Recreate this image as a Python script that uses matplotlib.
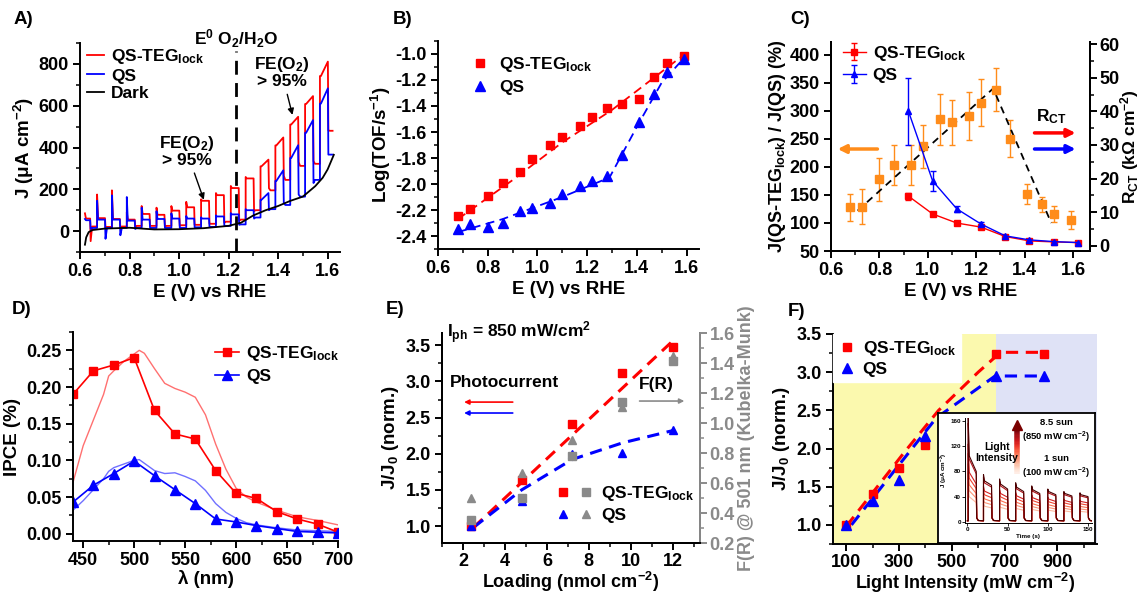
import numpy as np
import matplotlib
matplotlib.use("Agg")
import matplotlib.pyplot as plt
from matplotlib.ticker import MultipleLocator
from matplotlib.legend_handler import HandlerTuple
from matplotlib.collections import LineCollection

plt.rcParams.update({
    "font.family": ["Liberation Sans", "DejaVu Sans"],
    "font.weight": "bold",
    "axes.labelweight": "bold",
    "font.size": 13,
    "axes.labelsize": 13.5,
    "xtick.labelsize": 13,
    "ytick.labelsize": 13,
    "legend.fontsize": 12.5,
    "mathtext.fontset": "custom",
    "mathtext.rm": "Liberation Sans:bold",
    "mathtext.it": "Liberation Sans:bold:italic",
    "mathtext.bf": "Liberation Sans:bold",
    "mathtext.default": "rm",
    "axes.linewidth": 1.4,
    "xtick.direction": "out",
    "ytick.direction": "out",
    "xtick.major.width": 1.4,
    "ytick.major.width": 1.4,
    "xtick.minor.width": 1.1,
    "ytick.minor.width": 1.1,
    "xtick.major.size": 5,
    "ytick.major.size": 5,
    "xtick.minor.size": 3,
    "ytick.minor.size": 3,
    "xtick.major.pad": 3,
    "ytick.major.pad": 3,
    "legend.frameon": False,
})

RED, BLUE = "#ff0000", "#0000ff"
ORANGE, GRAY = "#ff8c1a", "#8a8a8a"

# ---------------- A) chopped-light LSV ----------------
scan_start, scan_end, on_width = 0.62, 1.62, 0.032
pulse_on = [0.609, 0.669, 0.729, 0.789, 0.849, 0.909, 0.969, 1.029, 1.089,
            1.149, 1.209, 1.269, 1.329, 1.389, 1.449, 1.509, 1.569]
red_spike = [85, 175, 195, 90, 120, 112, 120, 140, 152, 182, 216, 259, 310, 410, 510, 608, 742]
red_on = [60, 62, 58, 55, 82, 78, 98, 114, 145, 172, 206, 252, 342, 448, 547, 646, 811]
red_under = [-48, 15, 15, 20, 25, 20, 25, 30, 35, 40, 50, 95, 205, 265, 330, 335, 482]
red_off = [22, 20, 22, 25, 25, 25, 28, 30, 35, 45, 55, 100, 195, 245, 312, 322, 480]
blue_spike = [58, 145, 171, 163, 112, 95, 85, 72, 66, 75, 86, 105, 150, 240, 350, 470, 610]
blue_on = [52, 55, 55, 50, 55, 58, 60, 60, 60, 70, 80, 100, 182, 291, 411, 531, 683]
blue_under = [10, -37, -20, 10, 15, 15, 15, 18, 20, 25, 30, 60, 100, 135, 175, 230, 366]
blue_off = [15, 15, 15, 15, 15, 15, 15, 18, 20, 25, 32, 65, 105, 125, 165, 245, 366]
dark_E = [0.62, 0.625, 0.635, 0.65, 0.70, 0.80, 0.90, 1.00, 1.10, 1.20, 1.25,
          1.30, 1.35, 1.40, 1.45, 1.50, 1.55, 1.58, 1.60, 1.625]
dark_J = [-65, -30, -5, 5, 12, 16, 8, 9, 14, 25, 40, 75, 100, 120, 145, 165, 215, 255, 295, 365]
e0_o2 = 1.23

# ---------------- B) TOF ----------------
B_E_red = [0.68, 0.73, 0.80, 0.86, 0.93, 0.98, 1.05, 1.10, 1.17, 1.22, 1.28, 1.34, 1.41, 1.47, 1.52, 1.59]
B_red = [-2.245, -2.196, -2.089, -1.995, -1.906, -1.811, -1.699, -1.638, -1.556,
         -1.485, -1.418, -1.383, -1.344, -1.179, -1.069, -1.018]
B_E_blue = [0.68, 0.73, 0.80, 0.86, 0.93, 0.98, 1.05, 1.10, 1.17, 1.22, 1.28, 1.34, 1.41, 1.47, 1.52, 1.59]
B_blue = [-2.344, -2.311, -2.334, -2.301, -2.207, -2.181, -2.148, -2.079, -2.018,
          -1.977, -1.941, -1.778, -1.520, -1.306, -1.138, -1.036]
B_red_fit_E = [0.68, 0.90, 1.10, 1.30, 1.60]
B_red_fit = [-2.27, -1.97, -1.68, -1.43, -0.99]
B_blue_fit_E = [0.68, 0.86, 1.10, 1.29, 1.40, 1.50, 1.60]
B_blue_fit = [-2.37, -2.27, -2.10, -1.95, -1.56, -1.22, -1.01]

# ---------------- C) ratio & R_CT ----------------
C_E = [0.68, 0.73, 0.80, 0.86, 0.93, 0.98, 1.05, 1.10, 1.17, 1.22, 1.28, 1.34, 1.41, 1.47, 1.52, 1.59]
C_ratio = [128, 129, 178, 203, 203, 237, 285, 280, 291, 315, 338, 250, 152, 133, 116, 106]
C_ratio_err = [24, 31, 38, 36, 36, 38, 45, 40, 43, 42, 38, 33, 18, 14, 14, 16]
C_trend_E = [0.71, 1.27, 1.51]
C_trend = [122, 340, 100]
C_E_rct = [0.92, 1.02, 1.12, 1.22, 1.32, 1.42, 1.52, 1.62]
C_rct_red = [14.8, 9.5, 6.8, 5.6, 2.8, 1.5, 1.2, 1.0]
C_rct_red_err = [1.0, 0.5, 0.3, 0.3, 0.3, 0.2, 0.2, 0.2]
C_rct_blue = [40.0, 19.3, 11.0, 6.5, 3.0, 1.8, 1.3, 1.0]
C_rct_blue_err = [10.0, 3.0, 0.8, 0.5, 0.4, 0.3, 0.2, 0.2]

# ---------------- D) IPCE ----------------
D_wl = [440, 460, 480, 500, 520, 540, 560, 580, 600, 620, 640, 660, 680, 700]
D_red = [0.19, 0.222, 0.23, 0.24, 0.168, 0.136, 0.129, 0.086, 0.055, 0.048, 0.030, 0.020, 0.013, 0.002]
D_blue = [0.043, 0.066, 0.082, 0.099, 0.079, 0.060, 0.041, 0.020, 0.016, 0.011, 0.007, 0.003, 0.002, 0.001]
D_abs_wl = [440, 450, 460, 470, 475, 480, 490, 500, 505, 510, 520, 530, 540, 550, 560,
            570, 580, 590, 600, 610, 620, 640, 660, 680, 700]
D_abs_red = [0.07, 0.12, 0.155, 0.19, 0.215, 0.222, 0.235, 0.245, 0.25, 0.246, 0.225, 0.205,
             0.198, 0.193, 0.186, 0.162, 0.122, 0.088, 0.062, 0.05, 0.043, 0.032, 0.023, 0.018, 0.012]
D_abs_blue = [0.032, 0.045, 0.06, 0.075, 0.085, 0.09, 0.095, 0.1, 0.101, 0.096, 0.086, 0.082,
              0.083, 0.078, 0.072, 0.059, 0.041, 0.029, 0.021, 0.015, 0.012, 0.008, 0.005, 0.004, 0.003]

# ---------------- E) loading ----------------
E_load = [2.4, 4.8, 7.2, 9.6, 12.0]
E_red = [1.0, 1.64, 2.41, 3.12, 3.48]
E_blue = [1.0, 1.35, 1.99, 2.01, 2.33]
E_fr_sq = [0.355, 0.50, 0.78, 1.14, 1.415]
E_fr_tri = [0.50, 0.67, 0.89, 1.11, 1.45]
E_red_fit_x = [2.5, 12.0]
E_red_fit = [0.98, 3.56]
E_blue_fit_x = [2.5, 4.8, 7.2, 9.6, 12.0]
E_blue_fit = [0.98, 1.50, 1.92, 2.15, 2.32]

# ---------------- F) light intensity ----------------
F_I = [100, 200, 300, 400, 668, 850]
F_red = [1.0, 1.40, 1.75, 2.05, 3.24, 3.24]
F_blue = [1.0, 1.31, 1.59, 2.17, 2.95, 2.95]
F_red_fit_x = [100, 320, 450, 600, 665, 690, 850]
F_red_fit = [0.98, 1.95, 2.50, 3.00, 3.20, 3.26, 3.26]
F_blue_fit_x = [120, 441, 664, 850]
F_blue_fit = [1.0, 2.40, 2.95, 2.95]
F_split = 668
# inset transients (brightest curve) and relative intensity levels
ins_t_on = [1, 20, 40, 60, 80, 100, 120, 140]
ins_peak = [165, 75, 68, 62, 57, 52, 48, 46]
ins_mid = [105, 65, 60, 55, 51, 48, 45, 43]
ins_end = [80, 58, 52, 48, 45, 43, 41, 40]
ins_scale = [0.38, 0.47, 0.56, 0.66, 0.75, 0.95, 1.0]


def style(ax, right=False):
    ax.spines["top"].set_visible(False)
    if not right:
        ax.spines["right"].set_visible(False)
    ax.tick_params(which="both", top=False, right=False)


def one_dec(ax, axis="x", fmt="{:.1f}"):
    f = plt.FuncFormatter(lambda v, p: fmt.format(v))
    (ax.xaxis if axis == "x" else ax.yaxis).set_major_formatter(f)


def chop_trace(spike, on, under, off):
    xs, ys = [], []
    for k, e0 in enumerate(pulse_on):
        e1 = e0 + on_width
        if k == 0:
            xs.append(scan_start); ys.append(spike[k])
            xs.append(scan_start + 0.004)
        else:
            xs += [e0, e0]; ys += [off[k - 1], spike[k]]
            xs.append(e0 + 0.004)
        ys.append(min(spike[k], on[k]))
        xs += [e1, e1 + 0.002, e1 + 0.008]
        ys += [on[k], under[k], off[k]]
    xs.append(scan_end); ys.append(off[-1])
    return xs, ys


fig = plt.figure(figsize=(11.4, 5.95), dpi=100)
W, H = 1140, 595


def add_ax(l, t, r, b):
    return fig.add_axes([l / W, 1 - b / H, (r - l) / W, (b - t) / H])


# ---- A
axA = add_ax(80, 43, 340, 252)
style(axA)
xr, yr = chop_trace(red_spike, red_on, red_under, red_off)
xb, yb = chop_trace(blue_spike, blue_on, blue_under, blue_off)
axA.plot(xr, yr, color=RED, lw=1.3, label="QS-TEG$_{lock}$")
axA.plot(xb, yb, color=BLUE, lw=1.3, label="QS")
axA.plot(dark_E, dark_J, color="black", lw=1.3, label="Dark")
axA.plot([e0_o2, e0_o2], [-100, 860], color="black", lw=2, dashes=(5, 3))
axA.text(e0_o2, 920, "E$^0$ O$_2$/H$_2$O", ha="center", va="center", fontsize=12.5)
axA.annotate("FE(O$_2$)\n> 95%", xy=(1.10, 150), xytext=(1.03, 385), ha="center", va="center",
             fontsize=12.5, linespacing=1.0,
             arrowprops=dict(arrowstyle="-|>", color="black", lw=1, mutation_scale=9, shrinkB=0))
axA.annotate("FE(O$_2$)\n> 95%", xy=(1.458, 556), xytext=(1.414, 762), ha="center", va="center",
             fontsize=12.5, linespacing=1.0,
             arrowprops=dict(arrowstyle="-|>", color="black", lw=1, mutation_scale=9, shrinkB=0))
axA.set_xlim(0.6, 1.65)
axA.set_ylim(-100, 900)
axA.xaxis.set_major_locator(MultipleLocator(0.2))
axA.xaxis.set_minor_locator(MultipleLocator(0.1))
axA.yaxis.set_minor_locator(MultipleLocator(100))
axA.set_yticks([0, 200, 400, 600, 800])
one_dec(axA)
axA.set_xlabel("E (V) vs RHE", labelpad=3)
axA.set_ylabel("J (μA cm$^{-2}$)", labelpad=2)
axA.legend(loc="upper left", bbox_to_anchor=(-0.02, 1.04), handlelength=1.0, handletextpad=0.4,
           labelspacing=0.15, borderpad=0.2)

# ---- B
axB = add_ax(438, 41, 699, 249)
style(axB)
axB.plot(B_red_fit_E, B_red_fit, color=RED, lw=1.3, dashes=(5, 3))
axB.plot(B_blue_fit_E, B_blue_fit, color=BLUE, lw=1.3, dashes=(5, 3))
axB.plot(B_E_red, B_red, "s", color=RED, ms=6, label="QS-TEG$_{lock}$")
axB.plot(B_E_blue, B_blue, "^", color=BLUE, ms=6.5, label="QS")
axB.set_xlim(0.6, 1.65)
axB.set_ylim(-2.5, -0.9)
axB.xaxis.set_major_locator(MultipleLocator(0.2))
axB.xaxis.set_minor_locator(MultipleLocator(0.1))
axB.yaxis.set_minor_locator(MultipleLocator(0.1))
axB.set_yticks(np.round(np.arange(-2.4, -0.99, 0.2), 1))
one_dec(axB)
one_dec(axB, "y")
axB.set_xlabel("E (V) vs RHE", labelpad=3)
axB.set_ylabel("Log(TOF/s$^{-1}$)", labelpad=2)
axB.legend(loc="upper left", bbox_to_anchor=(0.08, 0.99), handlelength=1.0, handletextpad=0.6,
           labelspacing=0.35, borderpad=0.2)

# ---- C
axC = add_ax(831, 42, 1090, 251)
style(axC, right=True)
axC.errorbar(C_E, C_ratio, yerr=C_ratio_err, fmt="s", color=ORANGE, ms=5.5, capsize=2.5,
             elinewidth=1, capthick=1)
axC.plot(C_trend_E, C_trend, color="black", lw=1.3, dashes=(4, 3))
axC.set_xlim(0.6, 1.67)
axC.set_ylim(50, 423)
axC.xaxis.set_major_locator(MultipleLocator(0.2))
axC.xaxis.set_minor_locator(MultipleLocator(0.1))
axC.yaxis.set_major_locator(MultipleLocator(50))
one_dec(axC)
axC.set_xlabel("E (V) vs RHE", labelpad=3)
axC.set_ylabel("J(QS-TEG$_{lock}$) / J(QS) (%)", labelpad=1, fontsize=13)
axC2 = axC.twinx()
axC2.spines["top"].set_visible(False)
axC2.errorbar(C_E_rct, C_rct_red, yerr=C_rct_red_err, fmt="-s", color=RED, ms=4, lw=1,
              capsize=2, elinewidth=1, label="QS-TEG$_{lock}$")
axC2.errorbar(C_E_rct, C_rct_blue, yerr=C_rct_blue_err, fmt="-^", color=BLUE, ms=4.5, lw=1,
              capsize=2, elinewidth=1, label="QS")
axC2.set_ylim(-1.5, 60.6)
axC2.yaxis.set_major_locator(MultipleLocator(10))
axC2.yaxis.set_minor_locator(MultipleLocator(5))
axC2.tick_params(axis="y", pad=2)
axC2.set_ylabel("R$_{CT}$ (kΩ cm$^{-2}$)", labelpad=-1, fontsize=12.5)
axC2.legend(loc="upper left", bbox_to_anchor=(0.0, 1.05), handlelength=1.3, handletextpad=0.4,
            labelspacing=0.3, borderpad=0.2)
axC.annotate("", xy=(0.015, 0.488), xytext=(0.19, 0.488), xycoords="axes fraction",
             arrowprops=dict(arrowstyle="-|>", color=ORANGE, lw=2.5, mutation_scale=12))
axC2.annotate("", xy=(0.955, 0.565), xytext=(0.775, 0.565), xycoords="axes fraction",
              arrowprops=dict(arrowstyle="-|>", color=RED, lw=2.5, mutation_scale=12))
axC2.annotate("", xy=(0.955, 0.488), xytext=(0.775, 0.488), xycoords="axes fraction",
              arrowprops=dict(arrowstyle="-|>", color=BLUE, lw=2.5, mutation_scale=12))
axC2.text(0.85, 0.645, "R$_{CT}$", transform=axC2.transAxes, ha="center", va="center",
          fontsize=12.5)

# ---- D
axD = add_ax(73, 332, 338, 541)
style(axD)
axD.plot(D_abs_wl, D_abs_red, color="#ff7070", lw=1)
axD.plot(D_abs_wl, D_abs_blue, color="#7070ff", lw=1)
axD.plot(D_wl, D_red, "-s", color=RED, ms=6, lw=1.2, label="QS-TEG$_{lock}$")
axD.plot(D_wl, D_blue, "-^", color=BLUE, ms=6.5, lw=1.2, label="QS")
axD.set_xlim(440, 700)
axD.set_ylim(-0.01, 0.275)
axD.xaxis.set_major_locator(MultipleLocator(50))
axD.xaxis.set_minor_locator(MultipleLocator(25))
axD.yaxis.set_major_locator(MultipleLocator(0.05))
axD.yaxis.set_minor_locator(MultipleLocator(0.025))
one_dec(axD, "y", "{:.2f}")
axD.set_xlabel("λ (nm)", labelpad=1)
axD.set_ylabel("IPCE (%)", labelpad=4)
axD.legend(loc="upper right", bbox_to_anchor=(1.05, 1.0), handlelength=1.4, handletextpad=0.4,
           labelspacing=0.35, borderpad=0.2)

# ---- E
axE = add_ax(442, 333, 700, 543)
style(axE, right=True)
axE.plot(E_red_fit_x, E_red_fit, color=RED, lw=2.2, dashes=(4, 2.5))
axE.plot(E_blue_fit_x, E_blue_fit, color=BLUE, lw=2.2, dashes=(4, 2.5))
hr, = axE.plot(E_load, E_red, "s", color=RED, ms=5.5)
hb, = axE.plot(E_load, E_blue, "^", color=BLUE, ms=6)
axE.set_xlim(1, 13.3)
axE.set_ylim(0.765, 3.67)
axE.xaxis.set_major_locator(MultipleLocator(2))
axE.xaxis.set_minor_locator(MultipleLocator(1))
axE.yaxis.set_major_locator(MultipleLocator(0.5))
axE.yaxis.set_minor_locator(MultipleLocator(0.25))
one_dec(axE, "y")
axE.tick_params(axis="x", pad=2)
axE.set_xlabel("Loading (nmol cm$^{-2}$)", labelpad=0, fontsize=13)
axE.set_ylabel("J/J$_0$ (norm.)", labelpad=3)
axE2 = axE.twinx()
axE2.spines["top"].set_visible(False)
axE2.spines["right"].set_color(GRAY)
hgs, = axE2.plot(E_load, E_fr_sq, "s", color=GRAY, ms=5.5)
hgt, = axE2.plot(E_load, E_fr_tri, "^", color=GRAY, ms=6)
axE2.set_ylim(0.2, 1.6)
axE2.yaxis.set_major_locator(MultipleLocator(0.2))
axE2.yaxis.set_minor_locator(MultipleLocator(0.1))
one_dec(axE2, "y")
axE2.tick_params(axis="y", which="both", colors=GRAY, pad=2)
axE2.set_ylabel("F(R) @ 501 nm (Kubelka-Munk)", color=GRAY, labelpad=2, fontsize=13)
axE2.legend([(hr, hgs), (hb, hgt)], ["QS-TEG$_{lock}$", "QS"],
            handler_map={tuple: HandlerTuple(ndivide=None, pad=0.6)},
            loc="upper left", bbox_to_anchor=(0.40, 0.34), handlelength=2.0,
            handletextpad=0.5, labelspacing=0.3, borderpad=0.2)
axE.text(0.02, 1.0, "I$_{ph}$ = 850 mW/cm$^2$", transform=axE.transAxes, ha="left",
         va="center", fontsize=12.5)
axE.text(0.03, 0.765, "Photocurrent", transform=axE.transAxes, ha="left", va="center",
         fontsize=12.5)
axE.text(0.83, 0.755, "F(R)", transform=axE.transAxes, ha="center", va="center", fontsize=12.5)
for yy, cc in [(0.671, RED), (0.619, BLUE)]:
    axE.annotate("", xy=(0.075, yy), xytext=(0.285, yy), xycoords="axes fraction",
                 arrowprops=dict(arrowstyle="-|>", color=cc, lw=1.2, mutation_scale=7))
axE.annotate("", xy=(0.95, 0.676), xytext=(0.755, 0.676), xycoords="axes fraction",
             arrowprops=dict(arrowstyle="-|>", color=GRAY, lw=1.2, mutation_scale=7))

# ---- F
axF = add_ax(833, 334, 1097, 544)
style(axF)
axF.axvspan(50, F_split, color="#fbf9ae", lw=0, zorder=0)
axF.axvspan(F_split, 1050, color="#dfe2f6", lw=0, zorder=0)
axF.plot(F_red_fit_x, F_red_fit, color=RED, lw=2.2, dashes=(4, 2.5))
axF.plot(F_blue_fit_x, F_blue_fit, color=BLUE, lw=2.2, dashes=(4, 2.5))
axF.plot(F_I, F_red, "s", color=RED, ms=6, label="QS-TEG$_{lock}$")
axF.plot(F_I, F_blue, "^", color=BLUE, ms=6.5, label="QS")
axF.set_xlim(50, 1050)
axF.set_ylim(0.75, 3.5)
axF.xaxis.set_minor_locator(MultipleLocator(100))
axF.set_xticks([100, 300, 500, 700, 900])
axF.yaxis.set_major_locator(MultipleLocator(0.5))
axF.yaxis.set_minor_locator(MultipleLocator(0.25))
one_dec(axF, "y")
axF.tick_params(axis="x", pad=2)
axF.set_xlabel("Light Intensity (mW cm$^{-2}$)", labelpad=0, fontsize=13)
axF.set_ylabel("J/J$_0$ (norm.)", labelpad=3)
legF = axF.legend(loc="upper left", bbox_to_anchor=(0.0, 1.0), borderaxespad=0, frameon=True,
                  fancybox=False, handlelength=1.0, handletextpad=0.4, labelspacing=0.2,
                  borderpad=0.3)
legF.get_frame().set_facecolor("white")
legF.get_frame().set_edgecolor("white")
legF.get_frame().set_alpha(1)

# inset
box = add_ax(938, 413, 1095, 543)
box.set_xticks([]); box.set_yticks([])
for s in box.spines.values():
    s.set_linewidth(1.3)
axI = add_ax(965, 418, 1092, 523)
axI.set_facecolor("none")
style(axI)
cols = plt.cm.Reds(np.linspace(0.25, 0.95, len(ins_scale)))
cols[-1] = matplotlib.colors.to_rgba("#4a0000")
for sc, c in zip(ins_scale, cols):
    ts, js = [0], [1.5]
    for k, t0 in enumerate(ins_t_on):
        t1 = t0 + 10
        ts += [t0, t0, t0 + 1.2, t1, t1 + 0.6, t1 + 2.5, ins_t_on[k + 1] if k < 7 else 155]
        js += [1.5, ins_peak[k] * sc, ins_mid[k] * sc, ins_end[k] * sc, 6, 2, 1.5]
    axI.plot(ts, js, color=c, lw=0.8)
axI.set_xlim(-3, 155)
axI.set_ylim(-2, 165)
axI.set_xticks([0, 50, 100, 150])
axI.set_yticks([0, 40, 80, 120, 160])
axI.tick_params(labelsize=4.5, length=2, width=0.6, pad=1)
for s in axI.spines.values():
    s.set_linewidth(0.7)
axI.set_xlabel("Time (s)", fontsize=4.5, labelpad=1)
axI.set_ylabel("J (μA cm$^{-2}$)", fontsize=4.5, labelpad=1)
axI.text(0.25, 0.67, "Light\nIntensity", transform=axI.transAxes, ha="center", va="center",
         fontsize=7.5, linespacing=1.1)
axI.text(0.72, 0.87, "8.5 sun\n(850 mW cm$^{-2}$)", transform=axI.transAxes, ha="center",
         va="center", fontsize=6.8, linespacing=1.2)
axI.text(0.72, 0.53, "1 sun\n(100 mW cm$^{-2}$)", transform=axI.transAxes, ha="center",
         va="center", fontsize=6.8, linespacing=1.2)
gy = np.linspace(0.47, 0.9, 40)
segs = [[(0.41, gy[i]), (0.41, gy[i + 1])] for i in range(len(gy) - 1)]
lc = LineCollection(segs, colors=plt.cm.Reds(np.linspace(0.05, 1.0, len(segs))), lw=4,
                    transform=axI.transAxes)
axI.add_collection(lc)
axI.plot([0.41], [0.93], marker="^", ms=7, color="#7a0000", transform=axI.transAxes, clip_on=False)

# panel letters
for lab, x, y in [("A)", 14, 20), ("B)", 393, 20), ("C)", 790, 20),
                  ("D)", 12, 309), ("E)", 386, 309), ("F)", 788, 311)]:
    fig.text(x / W, 1 - y / H, lab, fontsize=13.5, ha="left", va="center")

fig.savefig("out.png", dpi=100)
